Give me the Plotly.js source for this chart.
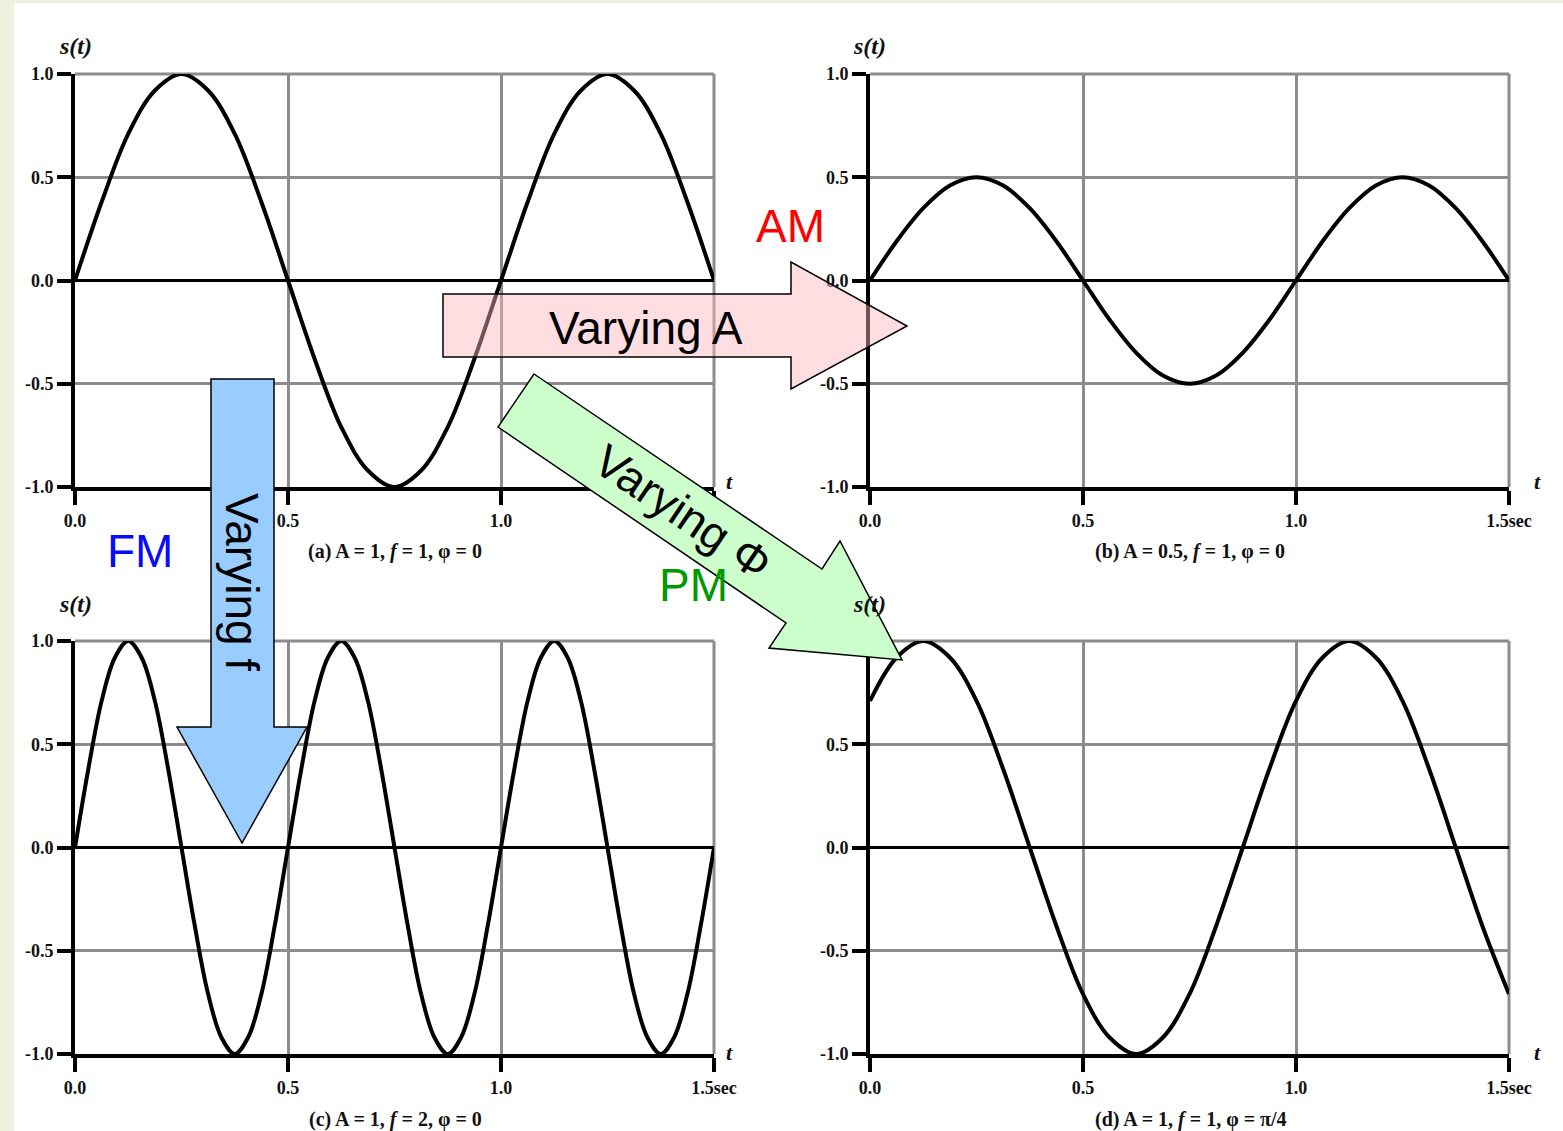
<!DOCTYPE html>
<html>
<head>
<meta charset="utf-8">
<script src="https://cdn.plot.ly/plotly-3.0.1.min.js"></script>
<style>html,body{margin:0;padding:0;background:#fff;}#chart{width:1563px;height:1131px;}</style>
</head>
<body>
<div id="chart"></div>
<script>
// ---- data ----
var tFine = [0, 0.0625, 0.125, 0.1875, 0.25, 0.3125, 0.375, 0.4375, 0.5, 0.5625, 0.625, 0.6875, 0.75, 0.8125, 0.875, 0.9375, 1, 1.0625, 1.125, 1.1875, 1.25, 1.3125, 1.375, 1.4375, 1.5];
var sA = [0, 0.38, 0.71, 0.92, 1, 0.92, 0.71, 0.38, 0, -0.38, -0.71, -0.92, -1, -0.92, -0.71, -0.38, 0, 0.38, 0.71, 0.92, 1, 0.92, 0.71, 0.38, 0];
var sB = [0, 0.19, 0.35, 0.46, 0.5, 0.46, 0.35, 0.19, 0, -0.19, -0.35, -0.46, -0.5, -0.46, -0.35, -0.19, 0, 0.19, 0.35, 0.46, 0.5, 0.46, 0.35, 0.19, 0];
var sD = [0.71, 0.92, 1, 0.92, 0.71, 0.38, 0, -0.38, -0.71, -0.92, -1, -0.92, -0.71, -0.38, 0, 0.38, 0.71, 0.92, 1, 0.92, 0.71, 0.38, 0, -0.38, -0.71];
var tC = [0, 0.03125, 0.0625, 0.09375, 0.125, 0.15625, 0.1875, 0.21875, 0.25, 0.28125, 0.3125, 0.34375, 0.375, 0.40625, 0.4375, 0.46875, 0.5, 0.53125, 0.5625, 0.59375, 0.625, 0.65625, 0.6875, 0.71875, 0.75, 0.78125, 0.8125, 0.84375, 0.875, 0.90625, 0.9375, 0.96875, 1, 1.03125, 1.0625, 1.09375, 1.125, 1.15625, 1.1875, 1.21875, 1.25, 1.28125, 1.3125, 1.34375, 1.375, 1.40625, 1.4375, 1.46875, 1.5];
var sC = [0, 0.38, 0.71, 0.92, 1, 0.92, 0.71, 0.38, 0, -0.38, -0.71, -0.92, -1, -0.92, -0.71, -0.38,
          0, 0.38, 0.71, 0.92, 1, 0.92, 0.71, 0.38, 0, -0.38, -0.71, -0.92, -1, -0.92, -0.71, -0.38,
          0, 0.38, 0.71, 0.92, 1, 0.92, 0.71, 0.38, 0, -0.38, -0.71, -0.92, -1, -0.92, -0.71, -0.38, 0];
var xTickVals = [0, 0.5, 1.0, 1.5];
var xTickText = ["0.0", "0.5", "1.0", "1.5sec"];
var yTickVals = [-1, -0.5, 0, 0.5, 1];
var yTickText = ["-1.0", "-0.5", "0.0", "0.5", "1.0"];
var captions = ["(a) A = 1, <i>f</i> = 1, φ = 0", "(b) A = 0.5, <i>f</i> = 1, φ = 0", "(c) A = 1, <i>f</i> = 2, φ = 0", "(d) A = 1, <i>f</i> = 1, φ = π/4"];

// ---- layout helpers (pixel -> paper) ----
var W = 1563, H = 1131;
function px(x){ return x / W; }
function py(y){ return 1 - y / H; }
function path(pts){ return 'M' + pts.map(function(p){ return px(p[0]) + ',' + py(p[1]); }).join(' L') + ' Z'; }

var serif = '"Liberation Serif", "Times New Roman", serif';
var sans = '"Liberation Sans", Arial, sans-serif';
var tickFont = {family: serif, size: 18, color: '#111', weight: 'bold'};
var gridColor = '#8c8c8c';

function xa(d0, d1, anchor){
  return {domain: [px(d0), px(d1)], anchor: anchor, range: [0, 1.5], tickmode: 'array', tickvals: xTickVals, ticktext: xTickText,
    showgrid: true, gridcolor: gridColor, gridwidth: 3, showline: true, linecolor: '#000', linewidth: 4,
    ticks: 'outside', ticklen: 14, tickwidth: 4, tickcolor: '#000', zeroline: false, tickfont: tickFont, fixedrange: true};
}
function ya(top, bottom, anchor){
  return {domain: [py(bottom), py(top)], anchor: anchor, range: [-1, 1], tickmode: 'array', tickvals: yTickVals, ticktext: yTickText,
    showgrid: true, gridcolor: gridColor, gridwidth: 3, showline: true, linecolor: '#000', linewidth: 4,
    ticks: 'outside', ticklen: 14, tickwidth: 4, tickcolor: '#000', zeroline: true, zerolinecolor: '#000', zerolinewidth: 3,
    tickfont: tickFont, fixedrange: true};
}

var lineStyle = {color: '#000', width: 4, shape: 'spline', smoothing: 1};
var traces = [
  {x: tFine, y: sA, xaxis: 'x', yaxis: 'y', mode: 'lines', line: lineStyle, hoverinfo: 'skip'},
  {x: tFine, y: sB, xaxis: 'x2', yaxis: 'y2', mode: 'lines', line: lineStyle, hoverinfo: 'skip'},
  {x: tC, y: sC, xaxis: 'x3', yaxis: 'y3', mode: 'lines', line: lineStyle, hoverinfo: 'skip'},
  {x: tFine, y: sD, xaxis: 'x4', yaxis: 'y4', mode: 'lines', line: lineStyle, hoverinfo: 'skip'}
];

var pinkArrow = [[443,294],[791,294],[791,262],[907,326],[791,389],[791,357],[443,357]];
var blueArrow = [[211,379],[274,379],[274,727],[307,727],[242,843],[177,727],[211,727]];
var greenArrow = [[534,374],[822,569],[840,541],[902,660],[769,648],[786,623],[498,427]];

var shapes = [
  {type: 'rect', xref: 'paper', yref: 'paper', x0: 0, x1: px(14), y0: 0, y1: 1, fillcolor: '#eef2e0', line: {width: 0}, layer: 'below'},
  {type: 'rect', xref: 'paper', yref: 'paper', x0: 0, x1: 1, y0: py(3), y1: 1, fillcolor: '#eef2e0', line: {width: 0}, layer: 'below'}
];
// top and right frame lines of every panel (same grey as the grid)
['', '2', '3', '4'].forEach(function(n){
  shapes.push({type: 'line', xref: 'x' + n + ' domain', yref: 'y' + n + ' domain', x0: 0, x1: 1, y0: 1, y1: 1, line: {color: gridColor, width: 3}, layer: 'below'});
  shapes.push({type: 'line', xref: 'x' + n + ' domain', yref: 'y' + n + ' domain', x0: 1, x1: 1, y0: 0, y1: 1, line: {color: gridColor, width: 3}, layer: 'below'});
});
shapes.push(
  {type: 'path', xref: 'paper', yref: 'paper', path: path(pinkArrow), fillcolor: 'rgba(255,180,187,0.45)', line: {color: '#000', width: 1.5}, layer: 'above'},
  {type: 'path', xref: 'paper', yref: 'paper', path: path(blueArrow), fillcolor: '#99ccff', line: {color: '#000', width: 1.5}, layer: 'above'},
  {type: 'path', xref: 'paper', yref: 'paper', path: path(greenArrow), fillcolor: '#ccffcc', line: {color: '#000', width: 1.5}, layer: 'above'}
);

function ann(text, x, y, font, extra){
  var a = {text: text, x: px(x), y: py(y), xref: 'paper', yref: 'paper', xanchor: 'center', yanchor: 'middle', showarrow: false, font: font};
  for (var k in extra) a[k] = extra[k];
  return a;
}
var capFont = {family: serif, size: 20, color: '#111', weight: 'bold'};
var stFont = {family: serif, size: 24, color: '#111', weight: 'bold', style: 'italic'};
var tFont = {family: serif, size: 22, color: '#111', weight: 'bold', style: 'italic'};
var bigFont = function(c){ return {family: sans, size: 46, color: c}; };

var annotations = [
  ann('s(t)', 75, 46, stFont), ann('s(t)', 869, 46, stFont), ann('s(t)', 75, 604, stFont), ann('s(t)', 869, 604, stFont),
  ann('t', 729, 481, tFont), ann('t', 1537, 481, tFont), ann('t', 729, 1052, tFont), ann('t', 1537, 1052, tFont),
  ann(captions[0], 395, 551, capFont), ann(captions[1], 1190, 551, capFont),
  ann(captions[2], 395, 1119, capFont), ann(captions[3], 1191, 1119, capFont),
  ann('Varying A', 646, 328, bigFont('#000')),
  ann('Varying f', 242, 582, bigFont('#000'), {textangle: 90}),
  ann('Varying Φ', 683, 512, bigFont('#000'), {textangle: 34}),
  ann('AM', 791, 226, bigFont('#ff0000')),
  ann('FM', 140, 551, bigFont('#0a0aff')),
  ann('PM', 693, 585, bigFont('#009900'))
];

var layout = {
  width: W, height: H, margin: {l: 0, r: 0, t: 0, b: 0},
  paper_bgcolor: '#fff', plot_bgcolor: '#fff', showlegend: false,
  xaxis: xa(75, 714, 'y'), yaxis: ya(74, 487, 'x'),
  xaxis2: xa(870, 1509, 'y2'), yaxis2: ya(74, 487, 'x2'),
  xaxis3: xa(75, 714, 'y3'), yaxis3: ya(641, 1054, 'x3'),
  xaxis4: xa(870, 1509, 'y4'), yaxis4: ya(641, 1054, 'x4'),
  shapes: shapes, annotations: annotations
};

Plotly.newPlot('chart', traces, layout, {displayModeBar: false, staticPlot: true});
</script>
</body>
</html>
